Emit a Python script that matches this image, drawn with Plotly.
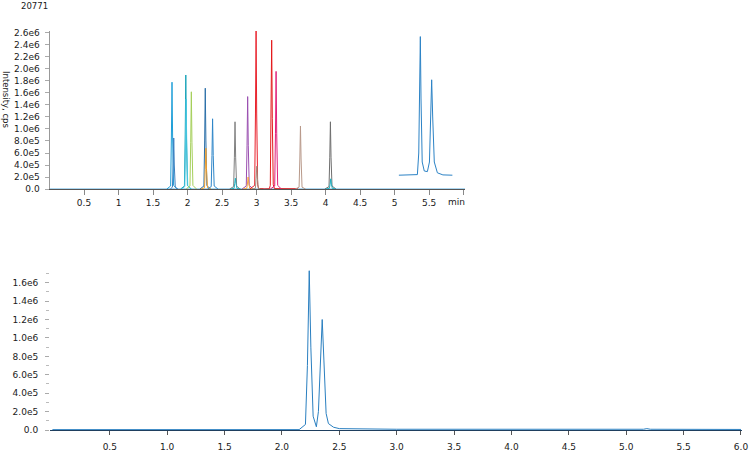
import plotly.graph_objects as go

# ---------------- data (time in min, intensity in 1e6 cps) ----------------
title_text = "20771"
y_title = "Intensity, cps"

# top panel: overlaid XICs
base_t = [0.0, 6.02]
base_i = [0.0, 0.0]

p01_t = [1.70, 1.755, 1.766, 1.775, 1.784, 1.798, 1.85]
p01_i = [0, 0.05, 0.85, 1.78, 0.85, 0.06, 0]
p02_t = [1.75, 1.781, 1.792, 1.800, 1.808, 1.822, 1.86]
p02_i = [0, 0.03, 0.40, 0.85, 0.40, 0.03, 0]
p03_t = [1.90, 1.955, 1.966, 1.975, 1.984, 1.998, 2.05]
p03_i = [0, 0.05, 0.90, 1.90, 0.90, 0.06, 0]
p04_t = [1.91, 1.960, 1.971, 1.980, 1.989, 2.003, 2.06]
p04_i = [0, 0.04, 0.70, 1.50, 0.70, 0.05, 0]
p05_t = [1.98, 2.035, 2.046, 2.055, 2.064, 2.078, 2.13]
p05_i = [0, 0.05, 0.77, 1.62, 0.77, 0.06, 0]
p06_t = [2.18, 2.237, 2.248, 2.257, 2.266, 2.280, 2.33]
p06_i = [0, 0.05, 0.80, 1.68, 0.80, 0.06, 0]
p07_t = [2.19, 2.246, 2.257, 2.266, 2.275, 2.289, 2.34]
p07_i = [0, 0.02, 0.32, 0.68, 0.32, 0.02, 0]
p08_t = [2.29, 2.343, 2.354, 2.363, 2.372, 2.386, 2.44]
p08_i = [0, 0.04, 0.56, 1.17, 0.56, 0.05, 0]
p09_t = [2.61, 2.668, 2.679, 2.688, 2.697, 2.711, 2.76]
p09_i = [0, 0.04, 0.53, 1.12, 0.53, 0.05, 0]
p10_t = [2.62, 2.673, 2.684, 2.693, 2.702, 2.716, 2.77]
p10_i = [0, 0.01, 0.09, 0.18, 0.09, 0.01, 0]
p11_t = [2.79, 2.851, 2.862, 2.871, 2.880, 2.894, 2.95]
p11_i = [0, 0.05, 0.73, 1.54, 0.73, 0.06, 0]
p12_t = [2.80, 2.858, 2.869, 2.878, 2.887, 2.901, 2.95]
p12_i = [0, 0.01, 0.10, 0.20, 0.10, 0.01, 0]
p13_t = [2.90, 2.973, 2.984, 2.993, 3.002, 3.016, 3.03, 3.10]
p13_i = [0, 0.06, 1.25, 2.65, 1.25, 0.07, 0.005, 0]
p14_t = [2.93, 2.983, 2.994, 3.003, 3.012, 3.026, 3.08]
p14_i = [0, 0.01, 0.18, 0.38, 0.18, 0.01, 0]
p15_t = [3.05, 3.185, 3.199, 3.210, 3.219, 3.228, 3.242, 3.26, 3.60]
p15_i = [0, 0.004, 0.06, 1.17, 2.48, 1.17, 0.07, 0.006, 0.004]
p16_t = [3.20, 3.263, 3.274, 3.283, 3.292, 3.306, 3.36]
p16_i = [0, 0.05, 0.93, 1.96, 0.93, 0.06, 0]
p17_t = [3.56, 3.616, 3.627, 3.636, 3.645, 3.659, 3.71]
p17_i = [0, 0.03, 0.50, 1.05, 0.50, 0.03, 0]
p18_t = [3.99, 4.050, 4.061, 4.070, 4.079, 4.093, 4.15]
p18_i = [0, 0.04, 0.53, 1.12, 0.53, 0.05, 0]
p19_t = [4.00, 4.055, 4.066, 4.075, 4.084, 4.098, 4.15]
p19_i = [0, 0.01, 0.08, 0.17, 0.08, 0.01, 0]
p20_t = [5.062, 5.30, 5.33, 5.350, 5.363, 5.373, 5.383, 5.400, 5.430, 5.475,
         5.505, 5.522, 5.537, 5.552, 5.575, 5.62, 5.70, 5.837]
p20_i = [0.23, 0.23, 0.24, 0.60, 1.80, 2.54, 1.50, 0.45, 0.30, 0.29,
         0.45, 1.30, 1.82, 1.20, 0.45, 0.27, 0.235, 0.23]

top_colors = ["#5aaee0", "#1f9fd8", "#3a7fc0", "#17a2b8", "#48c6e0", "#a5cf5a",
              "#2b6fa8", "#f0a030", "#2f86c8", "#808080", "#20b0c0", "#9a4fb0",
              "#f4a340", "#e8202a", "#a09080", "#e41a1c", "#e0207a", "#b8998a",
              "#6e6e6e", "#20b0c0", "#2c83c6"]

top_x_ticks = [0.5, 1, 1.5, 2, 2.5, 3, 3.5, 4, 4.5, 5, 5.5, 6.0]
top_x_labels = ["0.5", "1", "1.5", "2", "2.5", "3", "3.5", "4", "4.5", "5", "5.5", ""]
top_y_ticks = [0.0, 0.2, 0.4, 0.6, 0.8, 1.0, 1.2, 1.4, 1.6, 1.8, 2.0, 2.2, 2.4, 2.6]
top_y_labels = ["0.0", "2.0e5", "4.0e5", "6.0e5", "8.0e5", "1.0e6", "1.2e6", "1.4e6",
                "1.6e6", "1.8e6", "2.0e6", "2.2e6", "2.4e6", "2.6e6"]
x_unit = "min"

# bottom panel
bot_t = [0.0, 2.15, 2.205, 2.222, 2.238, 2.252, 2.272, 2.300, 2.318, 2.336, 2.351,
         2.366, 2.385, 2.405, 2.45, 2.50, 3.0, 5.15, 5.18, 5.21, 6.0]
bot_i = [0.004, 0.004, 0.06, 0.70, 1.73, 0.90, 0.15, 0.035, 0.20, 0.85, 1.20,
         0.75, 0.18, 0.07, 0.03, 0.015, 0.008, 0.008, 0.015, 0.008, 0.006]
bot_color = "#2a7fc0"
bot_x_ticks = [0.5, 1.0, 1.5, 2.0, 2.5, 3.0, 3.5, 4.0, 4.5, 5.0, 5.5, 6.0]
bot_x_labels = ["0.5", "1.0", "1.5", "2.0", "2.5", "3.0", "3.5", "4.0", "4.5", "5.0", "5.5", "6.0"]
bot_y_ticks = [0.0, 0.2, 0.4, 0.6, 0.8, 1.0, 1.2, 1.4, 1.6]
bot_y_labels = ["0.0", "2.0e5", "4.0e5", "6.0e5", "8.0e5", "1.0e6", "1.2e6", "1.4e6", "1.6e6"]

# ---------------- figure ----------------
W, H = 750, 452
FONT = "DejaVu Sans"
TXT = "#1a1a1a"

top_series = [(base_t, base_i), (p01_t, p01_i), (p02_t, p02_i), (p03_t, p03_i),
              (p04_t, p04_i), (p05_t, p05_i), (p06_t, p06_i), (p07_t, p07_i),
              (p08_t, p08_i), (p09_t, p09_i), (p10_t, p10_i), (p11_t, p11_i),
              (p12_t, p12_i), (p13_t, p13_i), (p14_t, p14_i), (p15_t, p15_i),
              (p16_t, p16_i), (p17_t, p17_i), (p18_t, p18_i), (p19_t, p19_i),
              (p20_t, p20_i)]

fig = go.Figure()
for (t, inten), c in zip(top_series, top_colors):
    fig.add_trace(go.Scatter(x=t, y=inten, mode="lines", line=dict(color=c, width=1),
                             xaxis="x", yaxis="y", showlegend=False, hoverinfo="skip"))

fig.add_trace(go.Scatter(x=bot_t, y=bot_i, mode="lines", line=dict(color=bot_color, width=1),
                         xaxis="x2", yaxis="y2", showlegend=False, hoverinfo="skip"))


def px(v):
    return v / W


def py(v):
    return 1 - v / H


tick_font = dict(family=FONT, size=9, color=TXT)

fig.update_layout(
    width=W, height=H,
    margin=dict(l=0, r=0, t=0, b=0),
    paper_bgcolor="white", plot_bgcolor="white",
    xaxis=dict(domain=[px(49.5), px(465)], range=[0, 6.02], anchor="y", automargin=False,
               tickvals=top_x_ticks, ticktext=top_x_labels, ticks="outside",
               ticklen=5, tickcolor="#888888", tickwidth=1,
               showline=True, linecolor="#555555", linewidth=1,
               showgrid=False, zeroline=False, tickfont=tick_font,
               ticklabelstandoff=0),
    yaxis=dict(domain=[py(189), py(31)], range=[0, 2.633], anchor="x", automargin=False,
               tickvals=top_y_ticks, ticktext=top_y_labels, ticks="outside",
               ticklen=4, tickcolor="#aaaaaa", tickwidth=1,
               showline=True, linecolor="#999999", linewidth=1,
               showgrid=False, zeroline=False, tickfont=tick_font,
               ticklabelstandoff=3),
    xaxis2=dict(domain=[px(50), px(742)], range=[-0.021, 6.009], anchor="y2", automargin=False,
                tickvals=bot_x_ticks, ticktext=bot_x_labels, ticks="outside",
                ticklen=4, tickcolor="#555555", tickwidth=1,
                showline=True, linecolor="#1f3f5f", linewidth=1,
                showgrid=False, zeroline=False, tickfont=tick_font,
                ticklabelstandoff=4),
    yaxis2=dict(domain=[py(430), py(270)], range=[0, 1.738], anchor="x2", automargin=False,
                tickvals=bot_y_ticks, ticktext=bot_y_labels, ticks="outside",
                ticklen=4, tickcolor="#aaaaaa", tickwidth=1,
                minor=dict(dtick=0.1, tick0=0, ticks="outside", ticklen=3, tickcolor="#bbbbbb"),
                showline=False, showgrid=False, zeroline=False, tickfont=tick_font,
                ticklabelstandoff=5),
)

fig.add_annotation(text=title_text, xref="paper", yref="paper", x=px(19), y=py(6),
                   xanchor="left", yanchor="middle", showarrow=False,
                   font=dict(family=FONT, size=8.5, color=TXT))
fig.add_annotation(text=y_title, xref="paper", yref="paper", x=px(6), y=py(99),
                   xanchor="center", yanchor="middle", textangle=90, showarrow=False,
                   font=dict(family=FONT, size=8.5, color=TXT))
fig.add_annotation(text=x_unit, xref="x", yref="paper", x=5.90, y=py(202.5),
                   xanchor="center", yanchor="middle", showarrow=False,
                   font=tick_font)

fig.write_html("out.html")
